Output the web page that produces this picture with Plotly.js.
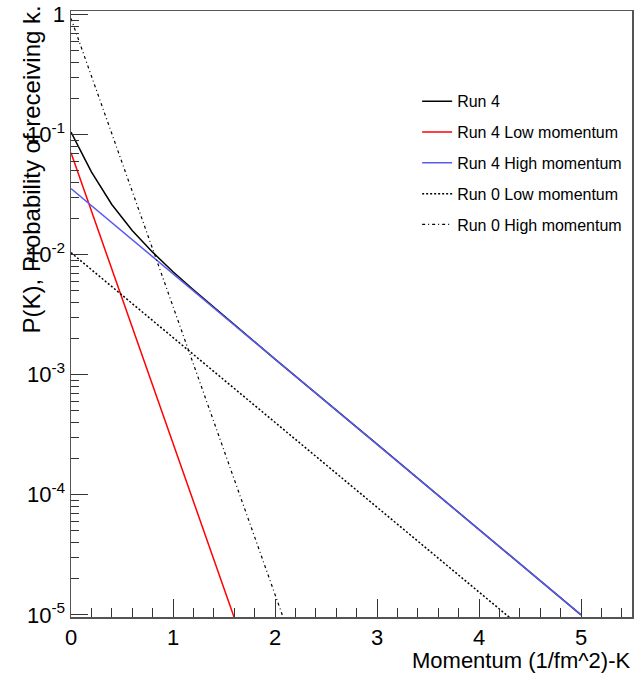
<!DOCTYPE html>
<html>
<head>
<meta charset="utf-8">
<script src="https://cdn.plot.ly/plotly-3.0.1.min.js"></script>
<style>html,body{margin:0;padding:0;background:#fff;}#chart{width:636px;height:677px;}</style>
</head>
<body>
<div id="chart"></div>
<script>
// Data
const run4X = [0, 0.2, 0.4, 0.6, 0.8, 1.0, 1.2, 1.5, 2.0, 3.0, 4.0, 5.0];
const run4Y = [0.105, 0.049, 0.0262, 0.0159, 0.0105, 0.0072, 0.0051, 0.00308, 0.00135, 0.000264, 0.0000514, 0.00001];
const run4LowX = [0, 1.6];
const run4LowY = [0.0706, 0.0000095];
const run4HighX = [0, 5.0];
const run4HighY = [0.0356, 0.00001];
const run0LowX = [0, 4.3];
const run0LowY = [0.0104, 0.0000095];
const run0HighX = [0, 2.08];
const run0HighY = [0.93, 0.0000095];
const names = ["Run 4", "Run 4 Low momentum", "Run 4 High momentum", "Run 0 Low momentum", "Run 0 High momentum"];
const yTickVals = [1, 0.1, 0.01, 0.001, 0.0001, 0.00001];
const yTickText = ["1", "10<sup>-1</sup>", "10<sup>-2</sup>", "10<sup>-3</sup>", "10<sup>-4</sup>", "10<sup>-5</sup>"];
const xTitle = "Momentum (1/fm^2)-K";
const yTitle = "P(K), Probability of receiving k.";

// minor log ticks (2..9 per decade)
const yMinor = [];
for (let e = -5; e < 0; e++) { for (let d = 2; d <= 9; d++) yMinor.push(d * Math.pow(10, e)); }

const font = "Liberation Sans, Arial, Helvetica, sans-serif";
function tr(x, y, name, color, dash, width, group) {
  return {x: x, y: y, name: name, type: "scatter", mode: "lines",
          legendgroup: group, line: {color: color, width: width, dash: dash}};
}
const traces = [
  tr(run4X, run4Y, names[0], "#000000", "solid", 1.5, "a"),
  tr(run4LowX, run4LowY, names[1], "#ff0000", "solid", 1.5, "b"),
  tr(run4HighX, run4HighY, names[2], "#5a5af0", "solid", 1.5, "c"),
  tr(run0LowX, run0LowY, names[3], "#000000", "2px,2px", 1.5, "d"),
  tr(run0HighX, run0HighY, names[4], "#000000", "3px,3px,1px,3px", 1.2, "e")
];

const layout = {
  width: 636, height: 677,
  margin: {l: 71, r: 4, t: 11, b: 60},
  paper_bgcolor: "#fff", plot_bgcolor: "#fff",
  font: {family: font, color: "#000"},
  showlegend: true,
  legend: {x: 0.617, y: 0.879, xanchor: "left", yanchor: "top", bgcolor: "rgba(0,0,0,0)",
           borderwidth: 0, font: {size: 16, family: font}, tracegroupgap: 7, traceorder: "grouped"},
  xaxis: {
    range: [0, 5.5], showgrid: false, zeroline: false,
    showline: true, mirror: true, linecolor: "#555", linewidth: 1.5,
    ticks: "inside", ticklen: 18, tickcolor: "#333", tickwidth: 1,
    tickmode: "linear", tick0: 0, dtick: 1,
    tickfont: {size: 22, family: font},
    minor: {ticks: "inside", ticklen: 9, tickcolor: "#333", dtick: 0.2, tick0: 0, showgrid: false}
  },
  yaxis: {
    type: "log", range: [-5.018, 0.03], showgrid: false, zeroline: false,
    showline: true, mirror: true, linecolor: "#555", linewidth: 1.5,
    ticks: "inside", ticklen: 17, tickcolor: "#333", tickwidth: 1,
    tickmode: "array", tickvals: yTickVals, ticktext: yTickText,
    tickfont: {size: 22, family: font},
    minor: {ticks: "inside", ticklen: 8, tickcolor: "#333", tickmode: "array", tickvals: yMinor, showgrid: false}
  },
  annotations: [
    {text: xTitle, xref: "paper", yref: "paper", x: 1, y: -0.0715, xanchor: "right", yanchor: "middle",
     showarrow: false, font: {size: 22, family: font}},
    {text: yTitle, xref: "paper", yref: "paper", x: -0.07, y: 1.012, xanchor: "center", yanchor: "top",
     textangle: -90, showarrow: false, font: {size: 24, family: font}}
  ]
};
Plotly.newPlot("chart", traces, layout, {displayModeBar: false, staticPlot: true});
</script>
</body>
</html>
